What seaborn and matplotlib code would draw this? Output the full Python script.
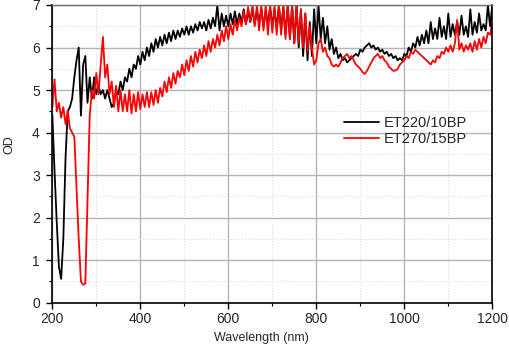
import numpy as np
import pandas as pd
import matplotlib
matplotlib.use("Agg")
import matplotlib.pyplot as plt
from matplotlib.ticker import MultipleLocator
import seaborn as sns

# Optical density spectra of two UV bandpass filters, sampled every 5 nm
wavelength = np.arange(200, 1205, 5)

od_et220 = [
    4.4, 3.1, 1.9, 0.85, 0.56, 1.5, 3.4, 4.5, 4.6, 4.8,
    5.3, 5.7, 6.0, 4.4, 5.6, 5.8, 4.7, 5.3, 4.8, 5.3,
    4.9, 5.1, 4.9, 5.0, 4.8, 5.0, 4.8, 4.6, 4.7, 5.0,
    4.9, 5.2, 5.0, 5.3, 5.2, 5.5, 5.3, 5.6, 5.5, 5.8,
    5.6, 5.9, 5.7, 6.0, 5.8, 6.1, 5.9, 6.2, 6.0, 6.25,
    6.05, 6.3, 6.1, 6.35, 6.15, 6.4, 6.2, 6.4, 6.25, 6.45,
    6.3, 6.5, 6.3, 6.5, 6.35, 6.55, 6.4, 6.6, 6.45, 6.6,
    6.4, 6.65, 6.45, 6.7, 6.5, 7.0, 6.4, 6.8, 6.5, 6.75,
    6.5, 6.8, 6.55, 6.85, 6.55, 6.8, 6.6, 6.9, 6.55, 6.85,
    6.6, 6.9, 6.55, 6.85, 6.6, 6.9, 6.5, 6.85, 6.55, 6.95,
    6.5, 6.9, 6.45, 7.0, 6.4, 6.95, 6.3, 7.0, 6.2, 7.0,
    6.1, 7.0, 6.0, 6.9, 5.8, 6.8, 5.7, 6.6, 5.8, 6.9,
    6.1, 7.0, 6.2, 6.7, 6.1, 6.5, 5.95, 6.2, 5.85, 6.0,
    5.75, 5.85, 5.7, 5.75, 5.65, 5.7, 5.75, 5.8, 5.85, 5.8,
    5.95, 5.9, 6.0, 6.05, 6.1, 6.0, 6.05, 5.95, 6.0, 5.9,
    5.95, 5.85, 5.9, 5.8, 5.85, 5.75, 5.8, 5.7, 5.75, 5.7,
    5.85, 5.8, 6.0, 5.9, 6.1, 6.0, 6.25, 6.05, 6.3, 6.1,
    6.4, 6.1, 6.6, 6.2, 6.45, 6.2, 6.7, 6.25, 6.5, 6.2,
    6.8, 6.25, 6.55, 6.3, 6.6, 6.3, 6.75, 6.3, 6.5, 6.25,
    6.9, 6.3, 6.6, 6.35, 6.8, 6.4, 6.55, 6.4, 7.0, 6.5,
    7.0,
]

od_et270 = [
    4.6, 5.25, 4.5, 4.7, 4.35, 4.6, 4.2, 4.5, 4.1, 4.0,
    3.9, 2.7, 1.5, 0.5, 0.42, 0.45, 2.4, 4.4, 5.0, 4.8,
    5.4, 4.9, 5.6, 6.25, 5.3, 5.6, 4.9, 5.2, 4.6, 5.1,
    4.5, 5.0, 4.5, 4.9, 4.5, 5.0, 4.45, 4.9, 4.5, 4.95,
    4.55, 4.9, 4.6, 4.95, 4.6, 4.95, 4.65, 5.0, 4.7, 5.05,
    4.85, 5.2, 4.95, 5.3, 5.05, 5.4, 5.15, 5.45, 5.3, 5.6,
    5.35, 5.7, 5.45, 5.8, 5.55, 5.9, 5.65, 5.95, 5.75, 6.05,
    5.8, 6.15, 5.9, 6.2, 6.0, 6.3, 6.05, 6.4, 6.15, 6.5,
    6.2, 6.55, 6.3, 6.65, 6.4, 6.7, 6.5, 6.85, 6.55, 6.95,
    6.6, 7.0, 6.5, 7.0, 6.4, 7.0, 6.4, 7.0, 6.3, 7.0,
    6.35, 7.0, 6.3, 7.0, 6.3, 7.0, 6.2, 7.0, 6.2, 7.0,
    6.1, 7.0, 6.1, 6.9, 6.0, 6.8, 5.9, 6.5, 6.0, 5.6,
    5.7, 6.1, 6.2, 5.9, 6.0, 5.8, 5.75, 5.6, 5.55, 5.6,
    5.55, 5.65, 5.75, 5.8, 5.85, 5.75, 5.8, 5.7, 5.6, 5.55,
    5.5, 5.42, 5.38, 5.45, 5.55, 5.65, 5.75, 5.8, 5.85, 5.75,
    5.8, 5.7, 5.65, 5.55, 5.5, 5.45, 5.46, 5.5, 5.6, 5.65,
    5.7, 5.8, 5.75, 5.9, 5.85, 5.95, 5.9, 5.85, 5.8, 5.75,
    5.7, 5.65, 5.6, 5.7, 5.65, 5.8, 5.75, 5.9, 5.85, 6.0,
    5.9, 6.05, 5.9, 6.1, 6.65, 5.95, 6.1, 5.9, 6.05, 5.95,
    6.1, 5.9, 6.15, 5.95, 6.2, 6.0, 6.25, 6.1, 6.35, 6.3,
    6.6,
]

filter_names = ["ET220/10BP", "ET270/15BP"]
filter_colors = ["black", "red"]

df = pd.concat([
    pd.DataFrame({"Wavelength": wavelength, "OD": od_et220, "Filter": filter_names[0]}),
    pd.DataFrame({"Wavelength": wavelength, "OD": od_et270, "Filter": filter_names[1]}),
], ignore_index=True)

sns.set_style("white")
plt.rcParams["font.family"] = ["Liberation Sans", "DejaVu Sans"]

fig = plt.figure(figsize=(5.09, 3.47), dpi=100)
ax = fig.add_axes([0.1028, 0.1277, 0.8644, 0.8579])

sns.lineplot(data=df, x="Wavelength", y="OD", hue="Filter",
             hue_order=filter_names, palette=filter_colors,
             estimator=None, sort=False, lw=1.3, ax=ax)

ax.set_xlim(200, 1200)
ax.set_ylim(0, 7)
ax.xaxis.set_major_locator(MultipleLocator(200))
ax.xaxis.set_minor_locator(MultipleLocator(100))
ax.yaxis.set_major_locator(MultipleLocator(1))
ax.yaxis.set_minor_locator(MultipleLocator(0.5))

ax.grid(which="major", color="#b4b4b4", lw=1.0, ls="-")
ax.grid(which="minor", color="#d4d4d4", lw=0.7, ls=(0, (1, 2)))
ax.set_axisbelow(True)

ax.tick_params(which="major", direction="out", length=4, width=1.0,
               color="black", labelsize=10, pad=3,
               bottom=True, left=True)
ax.tick_params(which="minor", direction="out", length=2, width=0.8,
               color="black", bottom=True, left=True)
ax.tick_params(axis="y", which="major", pad=5)

for side in ["left", "bottom", "right"]:
    ax.spines[side].set_color("black")
    ax.spines[side].set_linewidth(1.2)
ax.spines["top"].set_color("#707070")
ax.spines["top"].set_linewidth(1.0)

ax.set_xlabel("Wavelength (nm)", fontsize=9)
ax.set_ylabel("OD", fontsize=9)
ax.xaxis.set_label_coords(0.475, -0.1)
ax.yaxis.set_label_coords(-0.085, 0.53)

handles, labels = ax.get_legend_handles_labels()
ax.legend(handles, labels, loc="upper left",
          bbox_to_anchor=(0.676, 0.666), bbox_transform=fig.transFigure,
          frameon=False, fontsize=10.5, borderpad=0, borderaxespad=0,
          handlelength=2.4, handletextpad=0.35, labelspacing=0.15)

fig.savefig("out.png", dpi=100)
